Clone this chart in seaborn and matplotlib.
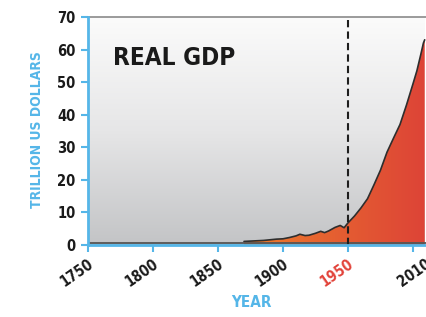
import numpy as np
import matplotlib
matplotlib.use("Agg")
import matplotlib.pyplot as plt
from matplotlib import font_manager
from matplotlib.colors import LinearSegmentedColormap
import matplotlib.transforms as mtransforms
import seaborn as sns

# ---- data ----
years = [1870, 1875, 1880, 1885, 1890, 1895, 1900, 1905, 1910, 1913, 1917, 1920,
         1925, 1929, 1932, 1935, 1940, 1944, 1947, 1950, 1955, 1960, 1965, 1970,
         1975, 1980, 1985, 1990, 1995, 2000, 2003, 2006, 2008, 2009]
gdp = [1.1, 1.2, 1.3, 1.4, 1.6, 1.8, 1.9, 2.3, 2.8, 3.3, 2.9, 3.0,
       3.6, 4.2, 3.8, 4.3, 5.4, 6.0, 5.3, 6.8, 8.9, 11.4, 14.2, 18.5,
       23.0, 28.5, 32.8, 37.0, 43.0, 49.5, 53.5, 58.5, 62.0, 63.0]
tick_years = [1750, 1800, 1850, 1900, 1950, 2000]
label_years = [1750, 1800, 1850, 1900, 1950, 2010]
label_texts = ["1750", "1800", "1850", "1900", "1950", "2010"]
y_ticks = [0, 10, 20, 30, 40, 50, 60, 70]
title = "REAL GDP"
xlab = "YEAR"
ylab = "TRILLION US DOLLARS"
marker_year = 1950

BLUE = "#55b6e8"
RED = "#e2433a"

sns.set_style("white")
avail = {f.name for f in font_manager.fontManager.ttflist}
fams = [f for f in ["Liberation Sans Narrow", "DejaVu Sans"] if f in avail]
plt.rcParams["font.family"] = fams
plt.rcParams["font.stretch"] = "condensed"

fig = plt.figure(figsize=(4.26, 3.17), dpi=100)
ax = fig.add_axes([88 / 426, 72 / 317, (426 - 88) / 426, 228 / 317])

xmin, xmax = 1750, 2009
ymin, ymax = 0, 70

# background vertical gradient
bg = np.linspace(0, 1, 256).reshape(-1, 1)
bg_cmap = LinearSegmentedColormap.from_list("bg", ["#fbfbfb", "#e6e6e7", "#c3c4c6"])
ax.imshow(bg, extent=[xmin, xmax, ymin, ymax], aspect="auto", cmap=bg_cmap,
          origin="upper", zorder=0, interpolation="bilinear")

# gradient fill under curve
poly = ax.fill_between(years, 0, gdp, color="none", lw=0)
grad = np.linspace(0, 1, 256).reshape(1, -1)
fill_cmap = LinearSegmentedColormap.from_list("fill", ["#ee7e2b", "#e55f31", "#dd4437"])
im = ax.imshow(grad, extent=[years[0], years[-1], 0, ymax], aspect="auto",
               cmap=fill_cmap, zorder=2, interpolation="bilinear")
im.set_clip_path(poly.get_paths()[0], ax.transData)

# curve
sns.lineplot(x=years, y=gdp, ax=ax, color="#2e2e2e", lw=1.2, zorder=3)

# bottom dark frame line just above axis
ax.plot([0, 1], [0.008, 0.008], transform=ax.transAxes, color="#555555", lw=1.3, zorder=3)

# dashed marker at 1950
ax.axvline(marker_year, ymin=0, ymax=0.985, color="#1e1e1e", lw=1.5,
           ls=(0, (3.5, 2)), zorder=4)

ax.set_xlim(xmin, xmax)
ax.set_ylim(ymin, ymax)

# spines
for s in ["left", "bottom"]:
    ax.spines[s].set_color(BLUE)
    ax.spines[s].set_linewidth(2)
    ax.spines[s].set_zorder(5)
ax.spines["top"].set_color("#8a8a8a")
ax.spines["top"].set_linewidth(1.2)
ax.spines["right"].set_visible(False)

# y ticks
ax.set_yticks(y_ticks)
ax.set_yticklabels([str(v) for v in y_ticks], fontsize=10.5, fontweight="bold", color="#1a1a1a")
ax.tick_params(axis="y", direction="out", length=5, width=1.5, color=BLUE, pad=4, left=True)

# x tick marks (major) and labels (minor)
ax.xaxis.remove_overlapping_locs = False
ax.set_xticks(tick_years)
ax.set_xticklabels([""] * len(tick_years))
ax.tick_params(axis="x", which="major", direction="out", length=5, width=1.5, color=BLUE, bottom=True)
ax.set_xticks(label_years, minor=True)
ax.set_xticklabels(label_texts, minor=True, rotation=35, ha="right",
                   fontsize=10.5, fontweight="bold", color="#1a1a1a")
ax.tick_params(axis="x", which="minor", length=0, pad=8, bottom=True)
offset = mtransforms.ScaledTranslation(8 / 100, 0, fig.dpi_scale_trans)
for lab in ax.get_xticklabels(minor=True):
    lab.set_transform(lab.get_transform() + offset)
    if lab.get_text() == str(marker_year):
        lab.set_color(RED)

ax.set_xlabel(xlab, fontsize=11, fontweight="bold", color=BLUE)
ax.set_ylabel(ylab, fontsize=10, fontweight="bold", color=BLUE)
ax.xaxis.set_label_coords((251 - 88) / 338, -(295 - 245) / 228)
ax.yaxis.set_label_coords(-(88 - 44) / 338, (245 - 130) / 228)

ax.text((113 - 88) / 338, (245 - 58) / 228, title, transform=ax.transAxes,
        fontsize=17.5, fontweight="bold", color="#1a1a1a", ha="left", va="center", zorder=6)

fig.savefig("out.png", dpi=100)
